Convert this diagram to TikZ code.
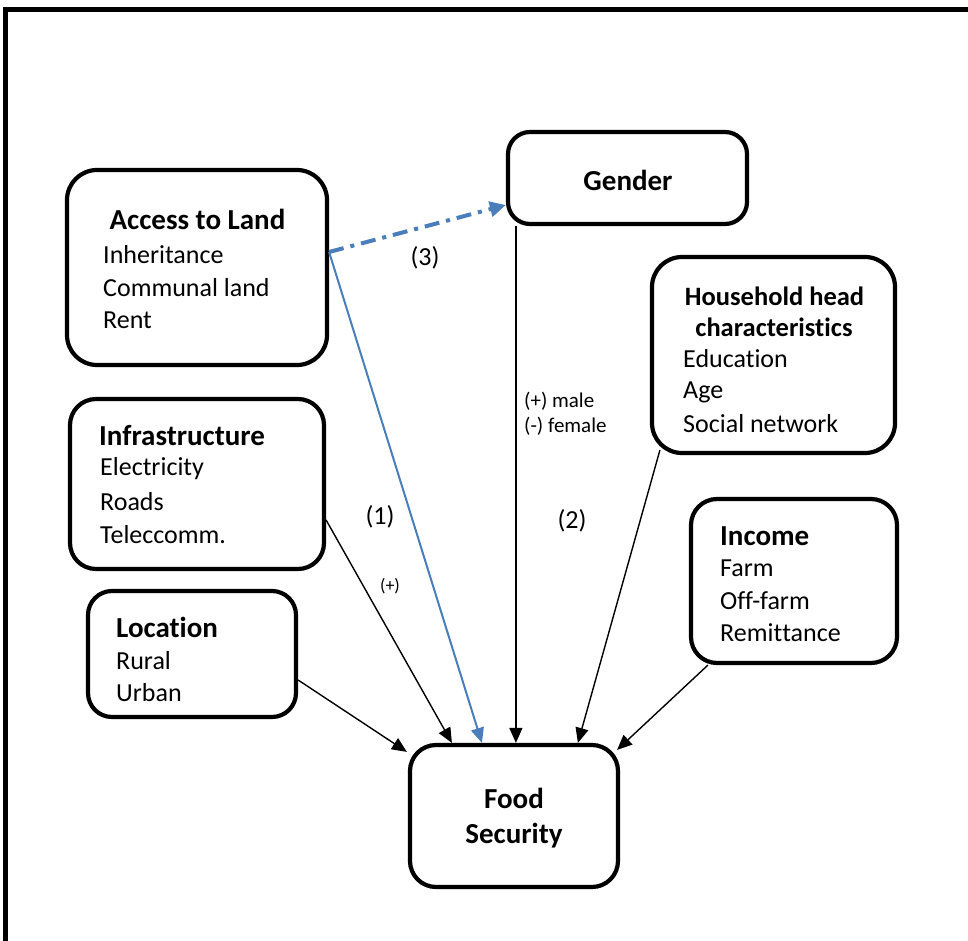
\documentclass[tikz,border=0pt]{standalone}
\usepackage{fontspec}
\setmainfont{Carlito}[Ligatures={NoCommon}]
\usetikzlibrary{arrows.meta}
\definecolor{linkblue}{HTML}{4A7EBB}
\begin{document}
\begin{tikzpicture}[x=1pt,y=-1pt,
  box/.style={draw, line width=4.2pt, rounded corners=#1, inner sep=0pt, fill=white},
  box/.default=28pt,
  hd/.style={font=\fontsize{29}{35}\selectfont\bfseries, inner sep=0pt},
  tx/.style={font=\fontsize{26}{33}\selectfont, inner sep=0pt, anchor=west},
  lbl/.style={font=\fontsize{26}{31}\selectfont, inner sep=0pt},
  sml/.style={font=\fontsize{21}{25}\selectfont, inner sep=0pt, align=left, anchor=west},
  conn/.style={line width=1.4pt, -{Triangle[length=15pt,width=13pt]}},
  blueconn/.style={line width=2pt, draw=linkblue, -{Triangle[length=15pt,width=13pt,fill=linkblue]}},
  dashconn/.style={line width=4pt, draw=linkblue, dash pattern=on 15pt off 7pt on 4pt off 7pt,
     -{Triangle[length=16pt,width=15pt,fill=linkblue]}}
]
\useasboundingbox (0,0) rectangle (968,941);
% frame
\draw[line width=5pt] (5,945) -- (5,9.5) -- (975,9.5);

% boxes
\node[box=30pt, minimum width=260pt, minimum height=195pt] (land) at (197,267.5) {};
\node[box=22pt, minimum width=239pt, minimum height=92pt] (gender) at (627.5,178) {};
\node[box=30pt, minimum width=243pt, minimum height=196pt] (hh) at (773.5,355) {};
\node[box=26pt, minimum width=254pt, minimum height=170pt] (infra) at (197,484) {};
\node[box=26pt, minimum width=206pt, minimum height=164pt] (income) at (794,581) {};
\node[box=24pt, minimum width=208pt, minimum height=126pt] (loc) at (192,654) {};
\node[box=26pt, minimum width=208pt, minimum height=142pt] (food) at (514,816) {};

% texts
\node[hd] (landh) at (197.5,219) {Access to Land};
\node[tx] (land1) at (103,255) {Inheritance};
\node[tx] (land2) at (103,288) {Communal land};
\node[tx] (land3) at (103,320) {Rent};

\node[hd] (genderh) at (628,180) {Gender};

\node[hd, font=\fontsize{26.5}{31}\selectfont\bfseries] (hhh1) at (774.5,296) {Household head};
\node[hd, font=\fontsize{26.5}{31}\selectfont\bfseries] (hhh2) at (774,327) {characterist\kern0pt ics};
\node[tx] (hh1) at (683,359) {Educat\kern0pt ion};
\node[tx] (hh2) at (683,392) {Age};
\node[tx] (hh3) at (683,424) {Social network};

\node[hd, anchor=west] (infrah) at (99,436) {Infrastructure};
\node[tx] (infra1) at (100,469) {Electricity};
\node[tx] (infra2) at (100,502) {Roads};
\node[tx] (infra3) at (100,535) {Teleccomm.};

\node[hd, anchor=west] (incomeh) at (720,536) {Income};
\node[tx] (income1) at (720,568) {Farm};
\node[tx] (income2) at (720,601) {Off-farm};
\node[tx] (income3) at (720,633) {Remit\kern0pt tance};

\node[hd, anchor=west] (loch) at (116,627) {Location};
\node[tx] (loc1) at (116,661) {Rural};
\node[tx] (loc2) at (116,693) {Urban};

\node[hd, align=center] (foodh) at (514,818) {Food\\Security};

% connectors
\draw[conn] ([xshift=10pt]gender.south west) -- ([xshift=108pt]food.north west);
\draw[conn] ([yshift=-36pt]infra.east) -- ([xshift=44pt]food.north west);
\draw[conn] ([yshift=-26pt]loc.east) -- ([xshift=-1pt,yshift=-9pt]food.north west);
\draw[conn] ([xshift=10pt,yshift=5pt]hh.south west) -- ([xshift=170pt]food.north west);
\draw[conn] ([xshift=19pt]income.south west) -- ([xshift=-3pt,yshift=-7pt]food.north east);
\draw[blueconn] ([yshift=15.5pt]land.east) -- ([xshift=74pt]food.north west);
\draw[dashconn] ([yshift=15.5pt]land.east) -- ([yshift=-27pt]gender.west);

% labels
\node[lbl] (l3) at (425,258) {(3)};
\node[sml] (lg) at (524,414) {(+) male\\(-) female};
\node[lbl] (l1) at (380,517) {(1)};
\node[lbl] (l2) at (572,521) {(2)};
\node[font=\fontsize{18}{20}\selectfont, inner sep=0pt] (lp) at (390,586) {(+)};
\end{tikzpicture}
\end{document}
